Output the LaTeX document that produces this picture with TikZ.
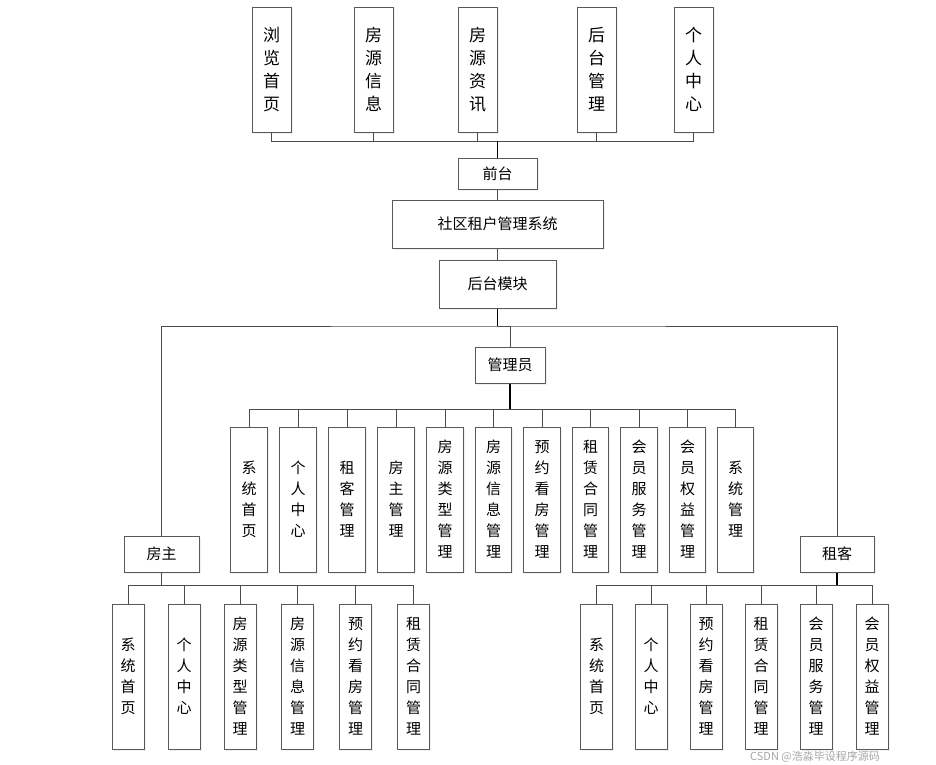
\documentclass[tikz,border=0pt]{standalone}
\usepackage{fontspec}
\usepackage{tikz}
\usetikzlibrary{shadows}
\newfontfamily\cjk{Noto Sans CJK SC}

\begin{document}
\begin{tikzpicture}[x=1pt,y=-1pt,
    box/.style={draw=black!65, line width=1pt, fill=white, inner sep=0pt,
        drop shadow={opacity=0.12, shadow xshift=1.5pt, shadow yshift=-1.5pt}},
    hbox/.style={box, font=\cjk\fontsize{15}{18}\selectfont},
    topbox/.style={box, minimum width=39pt, minimum height=125pt, align=center,
        font=\cjk\fontsize{17}{23}\selectfont},
    midbox/.style={box, minimum width=36.5pt, minimum height=145pt, align=center,
        font=\cjk\fontsize{15}{21}\selectfont},
    lowbox/.style={box, minimum width=32pt, minimum height=145pt, align=center,
        font=\cjk\fontsize{15}{21}\selectfont},
    wire/.style={draw=black!70, line width=0.9pt},
    trunk/.style={draw=black, line width=1.8pt}]
    \useasboundingbox (0,0) rectangle (936,764);

    % front end
    \node[topbox] (llsy) at (271.5,69.5) {浏\\览\\首\\页};
    \node[topbox] (fyxx) at (373.5,69.5) {房\\源\\信\\息};
    \node[topbox] (fyzx) at (477.5,69.5) {房\\源\\资\\讯};
    \node[topbox] (htgl) at (596.5,69.5) {后\\台\\管\\理};
    \node[topbox] (grzx) at (693.5,69.5) {个\\人\\中\\心};
    \coordinate (qbus) at (497.5,141);

    \node[hbox, minimum width=79pt, minimum height=31pt] (qt) at (497.5,173.5) {前台};
    \node[hbox, minimum width=211pt, minimum height=48pt] (xt) at (497.5,224) {社区租户管理系统};
    \node[hbox, minimum width=117pt, minimum height=48pt] (htmk) at (497.5,284) {后台模块};
    \coordinate (hbus) at (497.5,326);

    % roles
    \node[hbox, minimum width=70pt, minimum height=36pt] (gly) at (510,365) {管理员};
    \node[hbox, minimum width=75pt, minimum height=36pt] (fz) at (161.5,554) {房主};
    \node[hbox, minimum width=74pt, minimum height=36pt] (zk) at (837,554) {租客};
    \coordinate (abus) at (510,409);
    \coordinate (fbus) at (161.5,585);
    \coordinate (zbus) at (837,585);

    % admin
    \node[midbox] (a1) at (249,499.5) {系\\统\\首\\页};
    \node[midbox] (a2) at (298,499.5) {个\\人\\中\\心};
    \node[midbox] (a3) at (347,499.5) {租\\客\\管\\理};
    \node[midbox] (a4) at (396,499.5) {房\\主\\管\\理};
    \node[midbox] (a5) at (445,499.5) {房\\源\\类\\型\\管\\理};
    \node[midbox] (a6) at (493.5,499.5) {房\\源\\信\\息\\管\\理};
    \node[midbox] (a7) at (542,499.5) {预\\约\\看\\房\\管\\理};
    \node[midbox] (a8) at (590.5,499.5) {租\\赁\\合\\同\\管\\理};
    \node[midbox] (a9) at (639,499.5) {会\\员\\服\\务\\管\\理};
    \node[midbox] (a10) at (687.5,499.5) {会\\员\\权\\益\\管\\理};
    \node[midbox] (a11) at (735.5,499.5) {系\\统\\管\\理};

    % owner
    \node[lowbox] (f1) at (128,676.5) {系\\统\\首\\页};
    \node[lowbox] (f2) at (184,676.5) {个\\人\\中\\心};
    \node[lowbox] (f3) at (240,676.5) {房\\源\\类\\型\\管\\理};
    \node[lowbox] (f4) at (297.5,676.5) {房\\源\\信\\息\\管\\理};
    \node[lowbox] (f5) at (355.5,676.5) {预\\约\\看\\房\\管\\理};
    \node[lowbox] (f6) at (413.5,676.5) {租\\赁\\合\\同\\管\\理};

    % tenant
    \node[lowbox] (z1) at (596.5,676.5) {系\\统\\首\\页};
    \node[lowbox] (z2) at (651,676.5) {个\\人\\中\\心};
    \node[lowbox] (z3) at (706,676.5) {预\\约\\看\\房\\管\\理};
    \node[lowbox] (z4) at (761,676.5) {租\\赁\\合\\同\\管\\理};
    \node[lowbox] (z5) at (816,676.5) {会\\员\\服\\务\\管\\理};
    \node[lowbox] (z6) at (872,676.5) {会\\员\\权\\益\\管\\理};

    % connectors
    \draw[wire] (llsy.south) |- (qbus) -| (grzx.south);
    \draw[wire] (fyxx.south) |- (qbus)
                (fyzx.south) |- (qbus)
                (htgl.south) |- (qbus);
    \draw[trunk] (qbus) -- (qt.north);
    \draw[wire] (qt.south) -- (xt.north)
                (xt.south) -- (htmk.north);
    \draw[trunk] (htmk.south) -- (hbus);
    \draw[wire] (fz.north) |- (hbus) -| (zk.north);
    \draw[wire] (gly.north) |- (hbus);

    \draw[trunk] (gly.south) -- (abus);
    \draw[wire] (a1.north) |- (abus) -| (a11.north);
    \draw[wire] (a2.north) |- (abus)
                (a3.north) |- (abus)
                (a4.north) |- (abus)
                (a5.north) |- (abus)
                (a6.north) |- (abus)
                (a7.north) |- (abus)
                (a8.north) |- (abus)
                (a9.north) |- (abus)
                (a10.north) |- (abus);

    \draw[wire] (fz.south) -- (fbus);
    \draw[wire] (f1.north) |- (fbus) -| (f6.north);
    \draw[wire] (f2.north) |- (fbus)
                (f3.north) |- (fbus)
                (f4.north) |- (fbus)
                (f5.north) |- (fbus);

    \draw[trunk] (zk.south) -- (zbus);
    \draw[wire] (z1.north) |- (zbus) -| (z6.north);
    \draw[wire] (z2.north) |- (zbus)
                (z3.north) |- (zbus)
                (z4.north) |- (zbus)
                (z5.north) |- (zbus);

    % watermark
    \node[text=black!35, font=\cjk\fontsize{11}{12}\selectfont, inner sep=0pt, anchor=north] (mark) at (815,750.5) {CSDN @浩淼毕设程序源码};
\end{tikzpicture}
\end{document}
